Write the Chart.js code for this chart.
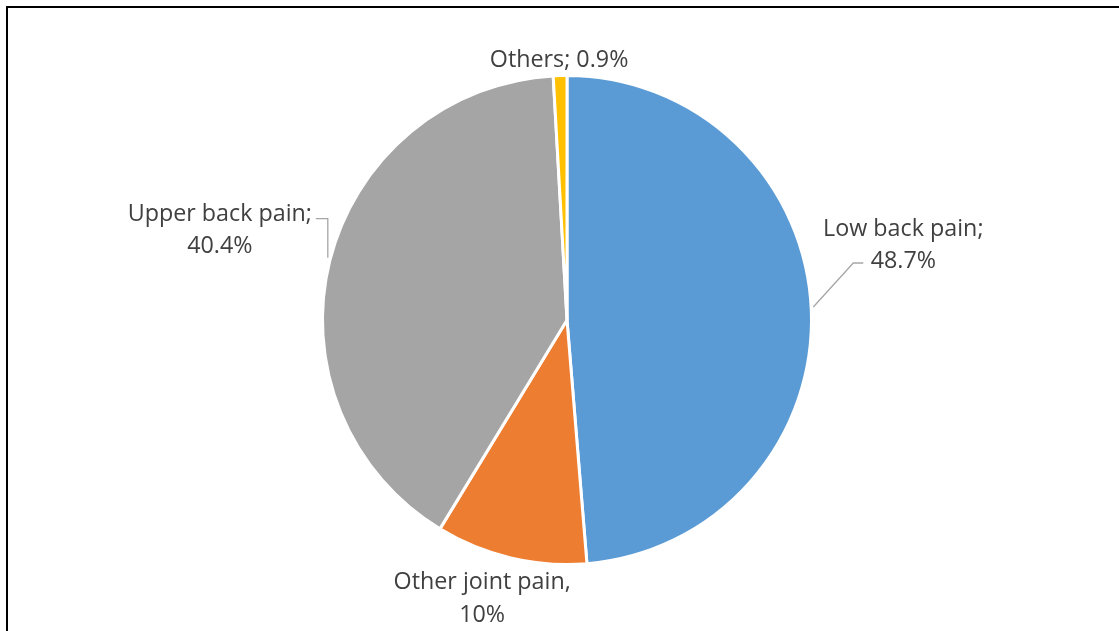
<!DOCTYPE html>
<html>
<head>
<meta charset="utf-8">
<script src="https://cdn.jsdelivr.net/npm/chart.js@4/dist/chart.umd.min.js"></script>
<style>
  html, body { margin: 0; padding: 0; background: #fff; }
  #wrap { position: relative; width: 1119px; height: 631px; overflow: hidden; background: #fff; }
  #frame { position: absolute; left: 6px; top: 6px; width: 1200px; height: 700px;
           border-left: 2px solid #000; border-top: 2px solid #000; pointer-events: none; }
</style>
</head>
<body>
<div id="wrap">
  <canvas id="c" width="1119" height="631"></canvas>
  <div id="frame"></div>
</div>
<script>
// ---- data ----
const categories = ["Low back pain", "Other joint pain", "Upper back pain", "Others"];
const values = [48.7, 10, 40.4, 0.9];
const separators = [";", ",", ";", ";"];
const twoLine = [true, true, true, false];
const colors = ["#5B9BD5", "#ED7D31", "#A5A5A5", "#FFC000"];

function labelLines(i) {
  const name = categories[i] + separators[i];
  const val = values[i] + "%";
  return twoLine[i] ? [name, val] : [name + " " + val];
}

// label placement relative to slice edge point at mid-angle
const labelCfg = [
  { tx: 92, ty: [-74, -42], leader: [[2, -3], [42, -47], [52, -47]] },
  { tx: -28.5, ty: [31.5, 64.5], leader: null },
  { tx: -110, ty: [-40, -8], leader: [[-2, -3], [-2, -42], [-14, -42]] },
  { tx: -1, ty: [-9], leader: null }
];

const labelPlugin = {
  id: "pieLabels",
  afterDatasetsDraw(chart) {
    const ctx = chart.ctx;
    const meta = chart.getDatasetMeta(0);
    ctx.save();
    ctx.font = "23.3px 'Open Sans'";
    ctx.fillStyle = "#404040";
    ctx.textAlign = "center";
    ctx.textBaseline = "alphabetic";
    meta.data.forEach((arc, i) => {
      const p = arc.getProps(["x", "y", "startAngle", "endAngle", "outerRadius"], true);
      const mid = (p.startAngle + p.endAngle) / 2;
      const ex = p.x + Math.cos(mid) * p.outerRadius;
      const ey = p.y + Math.sin(mid) * p.outerRadius;
      const cfg = labelCfg[i];
      if (cfg.leader) {
        ctx.beginPath();
        ctx.strokeStyle = "#A6A6A6";
        ctx.lineWidth = 1.3;
        cfg.leader.forEach((pt, k) => {
          const x = ex + pt[0], y = ey + pt[1];
          if (k === 0) ctx.moveTo(x, y); else ctx.lineTo(x, y);
        });
        ctx.stroke();
      }
      const lines = labelLines(i);
      lines.forEach((t, k) => {
        ctx.fillText(t, ex + cfg.tx, ey + cfg.ty[k]);
      });
    });
    ctx.restore();
  }
};

new Chart(document.getElementById("c"), {
  type: "pie",
  data: {
    labels: categories,
    datasets: [{
      data: values,
      backgroundColor: colors,
      borderColor: "#FFFFFF",
      borderWidth: 3
    }]
  },
  options: {
    responsive: false,
    animation: false,
    layout: { padding: { left: 300, right: 285, top: 74, bottom: 65 } },
    plugins: {
      legend: { display: false },
      tooltip: { enabled: false }
    }
  },
  plugins: [labelPlugin]
});
</script>
</body>
</html>
